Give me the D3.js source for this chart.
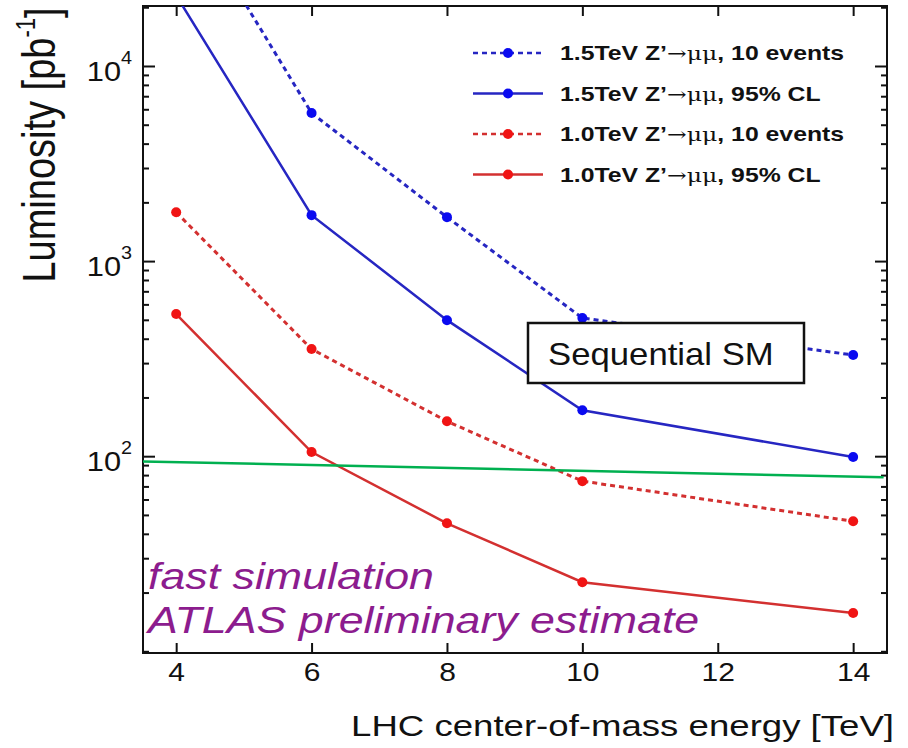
<!DOCTYPE html>
<html>
<head>
<meta charset="utf-8">
<script src="https://cdnjs.cloudflare.com/ajax/libs/d3/7.8.5/d3.min.js"></script>
<style>
  body { margin: 0; background: #fff; }
  svg { display: block; font-family: "Liberation Sans", Arial, sans-serif; }
</style>
</head>
<body>
<div id="chart"></div>
<script>
// values
var energy = [4, 6, 8, 10, 14];
var lumi15Events = [80000, 5740, 1680, 511, 330];
var lumi15CL = [23000, 1720, 498, 172, 99];
var lumi10Events = [1780, 354, 151, 74.5, 46.4];
var lumi10CL = [535, 105, 45.3, 22.6, 15.7];
var ssmEnergy = [3.5, 14.45];
var ssmLumi = [94, 78];
var xTicks = [4, 6, 8, 10, 12, 14];
var yTicks = [100, 1000, 10000];

var legendLabels = [
  ["1.5TeV Z\u2019", "\u2192\u03bc\u03bc", ", 10 events"],
  ["1.5TeV Z\u2019", "\u2192\u03bc\u03bc", ", 95% CL"],
  ["1.0TeV Z\u2019", "\u2192\u03bc\u03bc", ", 10 events"],
  ["1.0TeV Z\u2019", "\u2192\u03bc\u03bc", ", 95% CL"]
];

var width = 908, height = 748,
    frameL = 143, frameR = 887, frameT = 6, frameB = 653,
    stretch = 1.22,
    blueLine = "#2626c2", blueDot = "#0a0af0",
    redLine = "#d33030", redDot = "#f01414",
    purple = "#8c1c8e";

var series = [
  {y: lumi15Events, line: blueLine, dot: blueDot, dash: "5,4"},
  {y: lumi15CL, line: blueLine, dot: blueDot, dash: null},
  {y: lumi10Events, line: redLine, dot: redDot, dash: "5,4"},
  {y: lumi10CL, line: redLine, dot: redDot, dash: null}
];

var svg = d3.select("#chart").append("svg")
  .attr("width", width)
  .attr("height", height);

var x = d3.scaleLinear().domain([3.51, 14.5]).range([frameL, frameR]);
var y = d3.scaleLog().domain([9.8, 20300]).range([frameB, frameT]);

// minor ticks 2..9 per decade
var yMinor = [10];
for (var k = 1; k <= 4; k++) {
  for (var m = 2; m <= 9; m++) {
    var v = m * Math.pow(10, k);
    if (v < y.domain()[1]) yMinor.push(v);
  }
}

svg.append("defs").append("clipPath").attr("id", "frame")
  .append("rect")
  .attr("x", frameL).attr("y", frameT)
  .attr("width", frameR - frameL).attr("height", frameB - frameT);

// axes, ticks pointing inside the frame
var xAxis = svg.append("g")
  .attr("transform", "translate(0," + frameB + ")")
  .call(d3.axisBottom(x).tickValues(xTicks).tickSizeInner(-10).tickSizeOuter(0).tickPadding(10));
xAxis.selectAll("text")
  .attr("font-size", 25)
  .attr("fill", "#111")
  .attr("transform", "scale(1.2,1)");

svg.append("g")
  .attr("transform", "translate(0," + frameT + ")")
  .call(d3.axisTop(x).tickValues(xTicks).tickSizeInner(-10).tickSizeOuter(0).tickFormat(""));

var yAxis = svg.append("g")
  .attr("transform", "translate(" + frameL + ",0)")
  .call(d3.axisLeft(y).tickValues(yTicks).tickSizeInner(-12).tickSizeOuter(0).tickPadding(10).tickFormat(""));
yAxis.selectAll("text").each(function (d) {
  var t = d3.select(this)
    .attr("font-size", 28)
    .attr("fill", "#111")
    .attr("dy", "0.52em")
    .attr("transform", "scale(1.1,1)");
  t.append("tspan").text("10");
  t.append("tspan").attr("font-size", 18).attr("dy", "-0.95em").text(Math.round(Math.log10(d)));
});
svg.append("g")
  .attr("transform", "translate(" + frameL + ",0)")
  .call(d3.axisLeft(y).tickValues(yMinor).tickSizeInner(-6).tickSizeOuter(0).tickFormat(""));

svg.append("g")
  .attr("transform", "translate(" + frameR + ",0)")
  .call(d3.axisRight(y).tickValues(yTicks).tickSizeInner(-12).tickSizeOuter(0).tickFormat(""));
svg.append("g")
  .attr("transform", "translate(" + frameR + ",0)")
  .call(d3.axisRight(y).tickValues(yMinor).tickSizeInner(-6).tickSizeOuter(0).tickFormat(""));

svg.selectAll(".domain").remove();
svg.selectAll(".tick line").attr("stroke", "#111").attr("stroke-width", 2);

// frame
svg.append("rect")
  .attr("x", frameL).attr("y", frameT)
  .attr("width", frameR - frameL).attr("height", frameB - frameT)
  .attr("fill", "none")
  .attr("stroke", "#111")
  .attr("stroke-width", 2);

var plot = svg.append("g").attr("clip-path", "url(#frame)");

var line = d3.line()
  .x(function (d) { return x(d[0]); })
  .y(function (d) { return y(d[1]); });

series.forEach(function (s) {
  var pts = energy.map(function (e, i) { return [e, s.y[i]]; });
  plot.append("path")
    .datum(pts)
    .attr("d", line)
    .attr("fill", "none")
    .attr("stroke", s.line)
    .attr("stroke-width", s.dash ? 3 : 2.5)
    .attr("stroke-dasharray", s.dash);
  plot.selectAll(null)
    .data(pts).enter().append("circle")
    .attr("cx", function (d) { return x(d[0]); })
    .attr("cy", function (d) { return y(d[1]); })
    .attr("r", 5)
    .attr("fill", s.dot);
});

// sequential SM reference line
plot.append("path")
  .datum(ssmEnergy.map(function (e, i) { return [e, ssmLumi[i]]; }))
  .attr("d", line)
  .attr("fill", "none")
  .attr("stroke", "#00b050")
  .attr("stroke-width", 2.5);

// legend
var legend = svg.append("g");
legendLabels.forEach(function (lab, i) {
  var ly = 53 + i * 40.5, s = series[i];
  legend.append("line")
    .attr("x1", 473).attr("x2", 543)
    .attr("y1", ly).attr("y2", ly)
    .attr("stroke", s.line)
    .attr("stroke-width", 2.5)
    .attr("stroke-dasharray", s.dash);
  legend.append("circle")
    .attr("cx", 508).attr("cy", ly).attr("r", 5).attr("fill", s.dot);
  var t = legend.append("text")
    .attr("transform", "translate(560," + (ly + 7) + ") scale(1.24,1)")
    .attr("font-size", 20)
    .attr("font-weight", "bold")
    .attr("fill", "#111");
  t.append("tspan").text(lab[0]);
  t.append("tspan")
    .attr("font-family", "'DejaVu Serif', 'Liberation Serif', serif")
    .attr("font-weight", "normal")
    .attr("font-size", 19)
    .text(lab[1]);
  t.append("tspan").text(lab[2]);
});

// Sequential SM box
svg.append("rect")
  .attr("x", 528).attr("y", 323)
  .attr("width", 276).attr("height", 60)
  .attr("fill", "#fff")
  .attr("stroke", "#111")
  .attr("stroke-width", 2.5);
svg.append("text")
  .attr("transform", "translate(548,365) scale(1.12,1)")
  .attr("font-size", 31)
  .attr("fill", "#111")
  .text("Sequential SM");

// simulation note
svg.append("text")
  .attr("transform", "translate(148,589) scale(1.21,1)")
  .attr("font-size", 37)
  .attr("font-style", "italic")
  .attr("fill", purple)
  .text("fast simulation");
svg.append("text")
  .attr("transform", "translate(148,633) scale(1.21,1)")
  .attr("font-size", 37)
  .attr("font-style", "italic")
  .attr("fill", purple)
  .text("ATLAS preliminary estimate");

// axis titles
svg.append("text")
  .attr("transform", "translate(894,736) scale(" + stretch + ",1)")
  .attr("text-anchor", "end")
  .attr("font-size", 30)
  .attr("fill", "#111")
  .text("LHC center-of-mass energy [TeV]");

var yTitle = svg.append("text")
  .attr("transform", "translate(55,145) rotate(-90) scale(1," + stretch + ")")
  .attr("text-anchor", "middle")
  .attr("font-size", 38)
  .attr("fill", "#111");
yTitle.append("tspan").text("Luminosity [pb");
yTitle.append("tspan").attr("font-size", 22).attr("dy", "-0.75em").text("-1");
yTitle.append("tspan").attr("dy", "0.5em").text("]");
</script>
</body>
</html>
